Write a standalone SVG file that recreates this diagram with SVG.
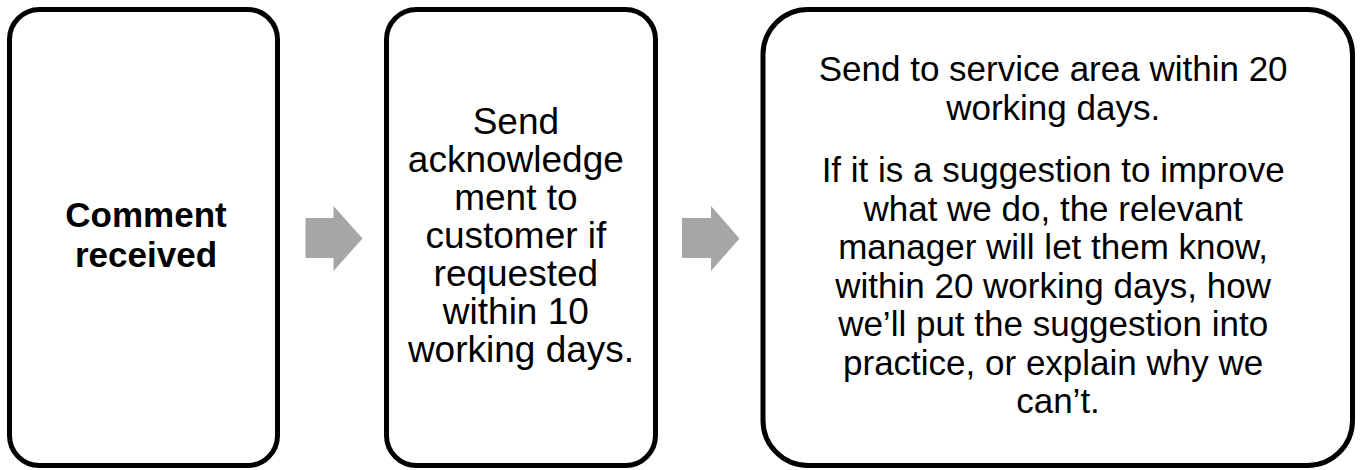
<svg xmlns="http://www.w3.org/2000/svg" width="1362" height="470" viewBox="0 0 1362 470">
  <style>
    .box { fill: #ffffff; stroke: #000000; stroke-width: 5; }
    .arrow { fill: #a6a6a6; stroke: none; }
    .t { font-family: "Liberation Sans", Arial, sans-serif; fill: #000000; text-anchor: middle; }
    .bold { font-weight: bold; font-size: 35px; }
    .mid { font-size: 37px; }
    .big { font-size: 35px; }
  </style>
  <rect width="1362" height="470" fill="#ffffff"/>

  <g id="connectors">
    <polygon class="arrow" points="305.5,218 333.5,218 333.5,206 362.5,238.5 333.5,271 333.5,258 305.5,258"/>
    <polygon class="arrow" points="682,218 711,218 711,206 739.5,238.5 711,271 711,258 682,258"/>
  </g>

  <g id="node-comment">
    <rect class="box" x="9.5" y="9.5" width="268" height="456" rx="30" ry="30"/>
    <text class="t bold" x="146" y="227">Comment</text>
    <text class="t bold" x="146" y="267">received</text>
  </g>

  <g id="node-acknowledge">
    <rect class="box" x="386.5" y="9.5" width="269" height="456" rx="30" ry="30"/>
    <text class="t mid" x="521">
      <tspan x="521" y="134">Send</tspan>
      <tspan x="521" y="172">acknowledge</tspan>
      <tspan x="521" y="210">ment to</tspan>
      <tspan x="521" y="248">customer if</tspan>
      <tspan x="521" y="286">requested</tspan>
      <tspan x="521" y="324">within 10</tspan>
      <tspan x="521" y="362">working days.</tspan>
    </text>
  </g>

  <g id="node-service-area">
    <rect class="box" x="763" y="9.5" width="589.5" height="456" rx="45" ry="45"/>
    <text class="t big" x="1058">
      <tspan x="1058" y="81">Send to service area within 20</tspan>
      <tspan x="1058" y="119.5">working days.</tspan>
      <tspan x="1058" y="182">If it is a suggestion to improve</tspan>
      <tspan x="1058" y="220.5">what we do, the relevant</tspan>
      <tspan x="1058" y="259">manager will let them know,</tspan>
      <tspan x="1058" y="297.5">within 20 working days, how</tspan>
      <tspan x="1058" y="336">we’ll put the suggestion into</tspan>
      <tspan x="1058" y="374.5">practice, or explain why we</tspan>
      <tspan x="1058" y="413">can’t.</tspan>
    </text>
  </g>
</svg>
